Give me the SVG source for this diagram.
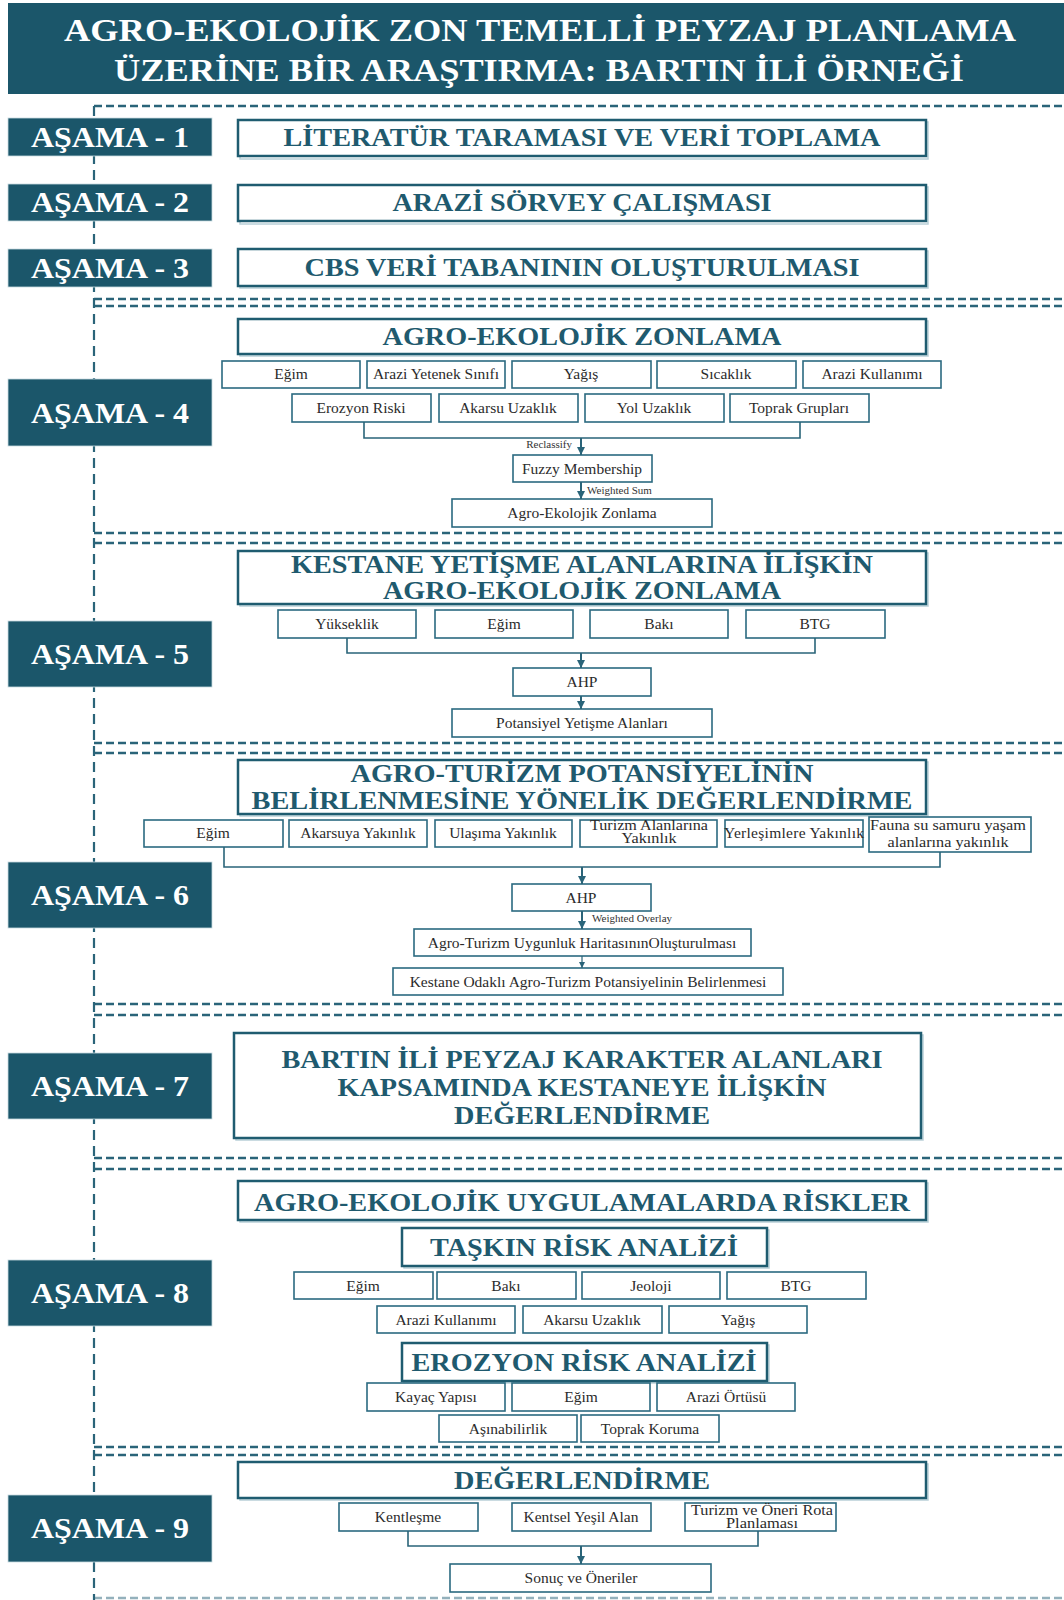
<svg xmlns="http://www.w3.org/2000/svg" width="1064" height="1600" viewBox="0 0 1064 1600">
  <defs>
    <marker id="arrowhead" viewBox="0 0 10 10" refX="10" refY="5" markerWidth="8" markerHeight="8" markerUnits="userSpaceOnUse" orient="auto">
      <path d="M0,0 L10,5 L0,10 z" fill="#2a6479"/>
    </marker>
    <marker id="arrowhead-sm" viewBox="0 0 10 10" refX="10" refY="5" markerWidth="6" markerHeight="6" markerUnits="userSpaceOnUse" orient="auto">
      <path d="M0,0 L10,5 L0,10 z" fill="#2a6479"/>
    </marker>
  </defs>
  <style>
    .banner { fill: #1b566a; }
    .title { fill: #ffffff; font-family: "Liberation Serif", "Times New Roman", serif; font-weight: bold; font-size: 31px; }
    .stage rect { fill: #1b566a; stroke: #c9dbe1; stroke-width: 0.8; }
    .stage text { fill: #ffffff; font-family: "Liberation Serif", "Times New Roman", serif; font-weight: bold; font-size: 30px; text-anchor: middle; }
    .hdr rect { fill: #ffffff; stroke: #1f5c70; stroke-width: 2.5; }
    .hdr .shadow { fill: none; stroke: #b9d0d8; stroke-width: 1.5; }
    .hdr text { fill: #1f5a6e; font-family: "Liberation Serif", "Times New Roman", serif; font-weight: bold; font-size: 26px; text-anchor: middle; }
    .box rect { fill: #ffffff; stroke: #2b6a80; stroke-width: 1.6; }
    .box text { fill: #2b2b2b; font-family: "Liberation Serif", "Times New Roman", serif; font-size: 15.5px; text-anchor: middle; }
    .box text.two { font-size: 14px; }
    .sep { stroke: #2a6479; stroke-width: 2.5; stroke-dasharray: 8 4; fill: none; }
    .vsep { stroke: #2a6479; stroke-width: 2.2; stroke-dasharray: 10 6; fill: none; }
    .link { stroke: #2a6479; stroke-width: 1.6; fill: none; }
    .arrow { stroke: #2a6479; stroke-width: 2; fill: none; marker-end: url(#arrowhead); }
    .arrow-thin { stroke: #2a6479; stroke-width: 1.2; fill: none; marker-end: url(#arrowhead-sm); }
    .note { fill: #333333; font-family: "Liberation Serif", "Times New Roman", serif; font-size: 11px; }
  </style>

  <!-- title banner -->
  <g id="title">
    <rect class="banner" x="8" y="3" width="1060" height="91"/>
    <text class="title" x="540" y="41" text-anchor="middle" textLength="952" lengthAdjust="spacingAndGlyphs">AGRO-EKOLOJİK ZON TEMELLİ PEYZAJ PLANLAMA</text>
    <text class="title" x="539" y="81" text-anchor="middle" textLength="850" lengthAdjust="spacingAndGlyphs">ÜZERİNE BİR ARAŞTIRMA: BARTIN İLİ ÖRNEĞİ</text>
  </g>

  <!-- dashed frame lines between stages -->
  <g id="separators">
    <line class="vsep" x1="94" y1="106" x2="94" y2="1600"/>
    <line class="sep" x1="94" y1="106" x2="1064" y2="106"/>
    <line class="sep" x1="94" y1="299" x2="1064" y2="299"/>
    <line class="sep" x1="94" y1="306" x2="1064" y2="306"/>
    <line class="sep" x1="94" y1="533" x2="1064" y2="533"/>
    <line class="sep" x1="94" y1="543" x2="1064" y2="543"/>
    <line class="sep" x1="94" y1="743" x2="1064" y2="743"/>
    <line class="sep" x1="94" y1="753" x2="1064" y2="753"/>
    <line class="sep" x1="94" y1="1004" x2="1064" y2="1004"/>
    <line class="sep" x1="94" y1="1015" x2="1064" y2="1015"/>
    <line class="sep" x1="94" y1="1158" x2="1064" y2="1158"/>
    <line class="sep" x1="94" y1="1169" x2="1064" y2="1169"/>
    <line class="sep" x1="94" y1="1447" x2="1064" y2="1447"/>
    <line class="sep" x1="94" y1="1455" x2="1064" y2="1455"/>
    <line class="sep" x1="94" y1="1598" x2="1064" y2="1598" opacity="0.5"/>
  </g>

  <!-- stage labels -->
  <g id="stage-1" class="stage"><rect x="8" y="118" width="204" height="38"/><text x="110" y="147" textLength="158" lengthAdjust="spacingAndGlyphs">AŞAMA - 1</text></g>
  <g id="stage-2" class="stage"><rect x="8" y="184" width="204" height="37"/><text x="110" y="212" textLength="158" lengthAdjust="spacingAndGlyphs">AŞAMA - 2</text></g>
  <g id="stage-3" class="stage"><rect x="8" y="249" width="204" height="38"/><text x="110" y="278" textLength="158" lengthAdjust="spacingAndGlyphs">AŞAMA - 3</text></g>
  <g id="stage-4" class="stage"><rect x="8" y="379" width="204" height="67"/><text x="110" y="423" textLength="158" lengthAdjust="spacingAndGlyphs">AŞAMA - 4</text></g>
  <g id="stage-5" class="stage"><rect x="8" y="621" width="204" height="66"/><text x="110" y="664" textLength="158" lengthAdjust="spacingAndGlyphs">AŞAMA - 5</text></g>
  <g id="stage-6" class="stage"><rect x="8" y="862" width="204" height="66"/><text x="110" y="905" textLength="158" lengthAdjust="spacingAndGlyphs">AŞAMA - 6</text></g>
  <g id="stage-7" class="stage"><rect x="8" y="1053" width="204" height="66"/><text x="110" y="1096" textLength="158" lengthAdjust="spacingAndGlyphs">AŞAMA - 7</text></g>
  <g id="stage-8" class="stage"><rect x="8" y="1260" width="204" height="66"/><text x="110" y="1303" textLength="158" lengthAdjust="spacingAndGlyphs">AŞAMA - 8</text></g>
  <g id="stage-9" class="stage"><rect x="8" y="1495" width="204" height="67"/><text x="110" y="1538" textLength="158" lengthAdjust="spacingAndGlyphs">AŞAMA - 9</text></g>

  <!-- stage 1-3 headings -->
  <g id="literatur" class="hdr"><rect class="shadow" x="240" y="122" width="688" height="37"/><rect x="238" y="120" width="688" height="36"/><text x="582" y="146" textLength="597" lengthAdjust="spacingAndGlyphs">LİTERATÜR TARAMASI VE VERİ TOPLAMA</text></g>
  <g id="arazi-sorvey" class="hdr"><rect class="shadow" x="240" y="187" width="688" height="37"/><rect x="238" y="185" width="688" height="36"/><text x="582" y="211" textLength="379" lengthAdjust="spacingAndGlyphs">ARAZİ SÖRVEY ÇALIŞMASI</text></g>
  <g id="cbs" class="hdr"><rect class="shadow" x="240" y="251" width="688" height="37"/><rect x="238" y="249" width="688" height="37"/><text x="582" y="276" textLength="555" lengthAdjust="spacingAndGlyphs">CBS VERİ TABANININ OLUŞTURULMASI</text></g>

  <!-- stage 4 -->
  <g id="agro-ekolojik-zonlama" class="hdr"><rect class="shadow" x="240" y="321" width="688" height="35"/><rect x="238" y="319" width="688" height="35"/><text x="582" y="345" textLength="399" lengthAdjust="spacingAndGlyphs">AGRO-EKOLOJİK ZONLAMA</text></g>
  <g id="s4-egim" class="box"><rect x="222" y="361" width="138" height="27"/><text x="291" y="379">Eğim</text></g>
  <g id="s4-arazi-yetenek" class="box"><rect x="367" y="361" width="138" height="27"/><text x="436" y="379">Arazi Yetenek Sınıfı</text></g>
  <g id="s4-yagis" class="box"><rect x="512" y="361" width="139" height="27"/><text x="581" y="379">Yağış</text></g>
  <g id="s4-sicaklik" class="box"><rect x="657" y="361" width="139" height="27"/><text x="726" y="379">Sıcaklık</text></g>
  <g id="s4-arazi-kullanimi" class="box"><rect x="803" y="361" width="138" height="27"/><text x="872" y="379">Arazi Kullanımı</text></g>
  <g id="s4-erozyon" class="box"><rect x="292" y="394" width="139" height="28"/><text x="361" y="413">Erozyon Riski</text></g>
  <g id="s4-akarsu" class="box"><rect x="439" y="394" width="139" height="28"/><text x="508" y="413">Akarsu Uzaklık</text></g>
  <g id="s4-yol" class="box"><rect x="585" y="394" width="139" height="28"/><text x="654" y="413">Yol Uzaklık</text></g>
  <g id="s4-toprak" class="box"><rect x="730" y="394" width="139" height="28"/><text x="799" y="413">Toprak Grupları</text></g>
  <g id="s4-fuzzy" class="box"><rect x="513" y="455" width="139" height="27"/><text x="582" y="474">Fuzzy Membership</text></g>
  <g id="s4-sonuc" class="box"><rect x="452" y="499" width="260" height="28"/><text x="582" y="518">Agro-Ekolojik Zonlama</text></g>

  <!-- stage 5 -->
  <g id="kestane-zonlama" class="hdr"><rect class="shadow" x="240" y="553" width="688" height="53"/><rect x="238" y="551" width="688" height="53"/>
    <text x="582" y="573" font-size="24.5" textLength="582" lengthAdjust="spacingAndGlyphs">KESTANE YETİŞME ALANLARINA İLİŞKİN</text>
    <text x="582" y="599" font-size="24.5" textLength="398" lengthAdjust="spacingAndGlyphs">AGRO-EKOLOJİK ZONLAMA</text></g>
  <g id="s5-yukseklik" class="box"><rect x="278" y="610" width="138" height="28"/><text x="347" y="629">Yükseklik</text></g>
  <g id="s5-egim" class="box"><rect x="435" y="610" width="138" height="28"/><text x="504" y="629">Eğim</text></g>
  <g id="s5-baki" class="box"><rect x="590" y="610" width="138" height="28"/><text x="659" y="629">Bakı</text></g>
  <g id="s5-btg" class="box"><rect x="746" y="610" width="139" height="28"/><text x="815" y="629">BTG</text></g>
  <g id="s5-ahp" class="box"><rect x="513" y="668" width="138" height="28"/><text x="582" y="687">AHP</text></g>
  <g id="s5-potansiyel" class="box"><rect x="452" y="709" width="260" height="28"/><text x="582" y="728">Potansiyel Yetişme Alanları</text></g>

  <!-- stage 6 -->
  <g id="agro-turizm" class="hdr"><rect class="shadow" x="240" y="762" width="688" height="54"/><rect x="238" y="760" width="688" height="54"/>
    <text x="582" y="782" textLength="463" lengthAdjust="spacingAndGlyphs">AGRO-TURİZM POTANSİYELİNİN</text>
    <text x="582" y="809" textLength="661" lengthAdjust="spacingAndGlyphs">BELİRLENMESİNE YÖNELİK DEĞERLENDİRME</text></g>
  <g id="s6-egim" class="box"><rect x="144" y="820" width="139" height="27"/><text x="213" y="838">Eğim</text></g>
  <g id="s6-akarsuya" class="box"><rect x="289" y="820" width="138" height="27"/><text x="358" y="838">Akarsuya Yakınlık</text></g>
  <g id="s6-ulasima" class="box"><rect x="435" y="820" width="137" height="27"/><text x="503" y="838">Ulaşıma Yakınlık</text></g>
  <g id="s6-turizm" class="box"><rect x="580" y="820" width="137" height="27"/><text class="two" x="649" y="830" textLength="118" lengthAdjust="spacingAndGlyphs">Turizm Alanlarına</text><text class="two" x="649" y="843" textLength="55" lengthAdjust="spacingAndGlyphs">Yakınlık</text></g>
  <g id="s6-yerlesim" class="box"><rect x="725" y="820" width="138" height="27"/><text x="794" y="838" textLength="140">Yerleşimlere Yakınlık</text></g>
  <g id="s6-fauna" class="box"><rect x="869" y="817" width="162" height="35"/><text class="two" x="948" y="830" textLength="156" lengthAdjust="spacingAndGlyphs">Fauna su samuru yaşam</text><text class="two" x="948" y="847" textLength="121" lengthAdjust="spacingAndGlyphs">alanlarına yakınlık</text></g>
  <g id="s6-ahp" class="box"><rect x="512" y="884" width="139" height="27"/><text x="581" y="903">AHP</text></g>
  <g id="s6-uygunluk" class="box"><rect x="414" y="929" width="337" height="27"/><text x="582" y="948">Agro-Turizm Uygunluk HaritasınınOluşturulması</text></g>
  <g id="s6-kestane" class="box"><rect x="393" y="968" width="390" height="27"/><text x="588" y="987">Kestane Odaklı Agro-Turizm Potansiyelinin Belirlenmesi</text></g>

  <!-- stage 7 -->
  <g id="peyzaj-karakter" class="hdr"><rect class="shadow" x="236" y="1035" width="687" height="105"/><rect x="234" y="1033" width="687" height="105"/>
    <text x="582" y="1068" textLength="601" lengthAdjust="spacingAndGlyphs">BARTIN İLİ PEYZAJ KARAKTER ALANLARI</text>
    <text x="582" y="1096" textLength="489" lengthAdjust="spacingAndGlyphs">KAPSAMINDA KESTANEYE İLİŞKİN</text>
    <text x="582" y="1124" textLength="256" lengthAdjust="spacingAndGlyphs">DEĞERLENDİRME</text></g>

  <!-- stage 8 -->
  <g id="riskler" class="hdr"><rect class="shadow" x="240" y="1183" width="688" height="39"/><rect x="238" y="1181" width="688" height="39"/><text x="582" y="1211" textLength="656" lengthAdjust="spacingAndGlyphs">AGRO-EKOLOJİK UYGULAMALARDA RİSKLER</text></g>
  <g id="taskin" class="hdr"><rect class="shadow" x="404" y="1230" width="365" height="38"/><rect x="402" y="1228" width="365" height="38"/><text x="584" y="1256" font-size="28" textLength="308" lengthAdjust="spacingAndGlyphs">TAŞKIN RİSK ANALİZİ</text></g>
  <g id="s8-egim" class="box"><rect x="294" y="1272" width="139" height="27"/><text x="363" y="1291">Eğim</text></g>
  <g id="s8-baki" class="box"><rect x="437" y="1272" width="139" height="27"/><text x="506" y="1291">Bakı</text></g>
  <g id="s8-jeoloji" class="box"><rect x="582" y="1272" width="138" height="27"/><text x="651" y="1291">Jeoloji</text></g>
  <g id="s8-btg" class="box"><rect x="727" y="1272" width="139" height="27"/><text x="796" y="1291">BTG</text></g>
  <g id="s8-arazi-kullanimi" class="box"><rect x="377" y="1306" width="138" height="27"/><text x="446" y="1325">Arazi Kullanımı</text></g>
  <g id="s8-akarsu" class="box"><rect x="523" y="1306" width="139" height="27"/><text x="592" y="1325">Akarsu Uzaklık</text></g>
  <g id="s8-yagis" class="box"><rect x="669" y="1306" width="138" height="27"/><text x="738" y="1325">Yağış</text></g>
  <g id="erozyon" class="hdr"><rect class="shadow" x="404" y="1345" width="365" height="38"/><rect x="402" y="1343" width="365" height="38"/><text x="584" y="1371" font-size="30" textLength="345" lengthAdjust="spacingAndGlyphs">EROZYON RİSK ANALİZİ</text></g>
  <g id="s8-kayac" class="box"><rect x="367" y="1383" width="138" height="28"/><text x="436" y="1402">Kayaç Yapısı</text></g>
  <g id="s8-egim2" class="box"><rect x="512" y="1383" width="138" height="28"/><text x="581" y="1402">Eğim</text></g>
  <g id="s8-arazi-ortusu" class="box"><rect x="657" y="1383" width="138" height="28"/><text x="726" y="1402">Arazi Örtüsü</text></g>
  <g id="s8-asinabilirlik" class="box"><rect x="439" y="1415" width="138" height="27"/><text x="508" y="1434">Aşınabilirlik</text></g>
  <g id="s8-toprak-koruma" class="box"><rect x="581" y="1415" width="138" height="27"/><text x="650" y="1434">Toprak Koruma</text></g>

  <!-- stage 9 -->
  <g id="degerlendirme" class="hdr"><rect class="shadow" x="240" y="1464" width="688" height="36"/><rect x="238" y="1462" width="688" height="36"/><text x="582" y="1489" font-size="27" textLength="256" lengthAdjust="spacingAndGlyphs">DEĞERLENDİRME</text></g>
  <g id="s9-kentlesme" class="box"><rect x="339" y="1503" width="139" height="28"/><text x="408" y="1522">Kentleşme</text></g>
  <g id="s9-yesil-alan" class="box"><rect x="512" y="1503" width="139" height="28"/><text x="581" y="1522">Kentsel Yeşil Alan</text></g>
  <g id="s9-turizm-rota" class="box"><rect x="685" y="1503" width="151" height="28"/><text class="two" x="762" y="1515" textLength="142" lengthAdjust="spacingAndGlyphs">Turizm ve Öneri Rota</text><text class="two" x="762" y="1528" textLength="72" lengthAdjust="spacingAndGlyphs">Planlaması</text></g>
  <g id="s9-sonuc" class="box"><rect x="450" y="1564" width="261" height="28"/><text x="581" y="1583">Sonuç ve Öneriler</text></g>

  <!-- connectors -->
  <g id="connectors">
    <polyline class="link" points="364,422 364,438 800,438 800,422"/>
    <line class="arrow" x1="581" y1="438" x2="581" y2="455"/>
    <text class="note" x="572" y="448" text-anchor="end">Reclassify</text>
    <line class="arrow" x1="581" y1="482" x2="581" y2="499"/>
    <text class="note" x="587" y="494">Weighted Sum</text>

    <polyline class="link" points="347,638 347,653 815,653 815,638"/>
    <line class="arrow" x1="581" y1="653" x2="581" y2="668"/>
    <line class="arrow" x1="581" y1="696" x2="581" y2="709"/>

    <polyline class="link" points="224,847 224,867 940,867 940,852"/>
    <line class="arrow" x1="582" y1="867" x2="582" y2="884"/>
    <line class="arrow" x1="582" y1="911" x2="582" y2="929"/>
    <text class="note" x="592" y="922">Weighted Overlay</text>
    <line class="arrow-thin" x1="582" y1="956" x2="582" y2="968"/>

    <polyline class="link" points="408,1531 408,1546 758,1546 758,1531"/>
    <line class="arrow" x1="581" y1="1546" x2="581" y2="1564"/>
  </g>
</svg>
